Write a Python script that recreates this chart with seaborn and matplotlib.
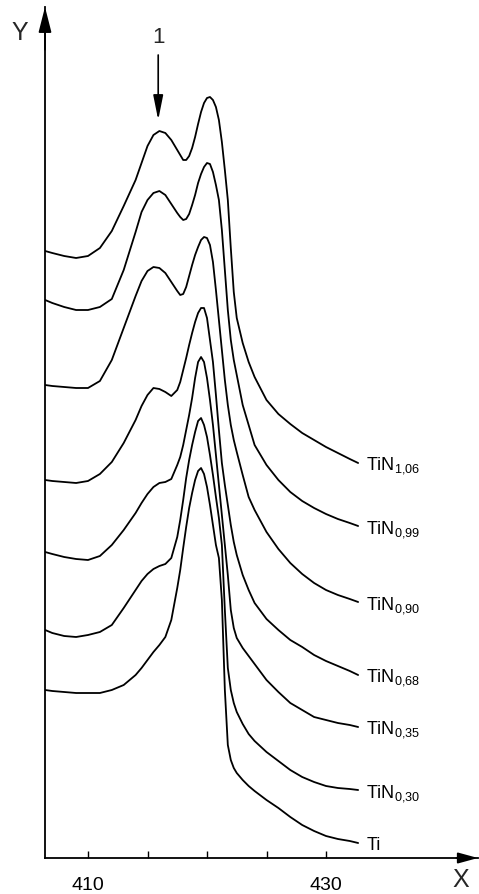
import matplotlib
matplotlib.use("Agg")
import matplotlib.pyplot as plt
import numpy as np
import pandas as pd
import seaborn as sns

# ---------------- data ----------------
x_nm = [406.4, 407, 408, 409, 410, 411, 412, 413, 414, 414.5, 415, 415.5, 416,
        416.5, 417, 417.5, 417.75, 418, 418.25, 418.5, 418.75, 419, 419.25,
        419.5, 419.75, 420, 420.25, 420.5, 420.75, 421, 421.25, 421.5, 421.75,
        422, 422.25, 422.5, 423, 423.5, 424, 425, 426, 427, 428, 429, 430,
        431, 432, 432.7]

y_TiN106 = [60.7, 60.5, 60.2, 60.0, 60.2, 61.0, 62.7, 65.2, 67.8, 69.5, 71.2, 72.3,
            72.7, 72.5, 71.8, 70.8, 70.3, 69.8, 69.8, 70.2, 71.0, 72.1, 73.4, 74.6,
            75.5, 76.0, 76.1, 75.8, 75.1, 73.8, 71.6, 68.8, 65.8, 61.0, 56.6, 54.0,
            51.5, 49.6, 48.1, 45.8, 44.4, 43.4, 42.5, 41.8, 41.1, 40.5, 39.9, 39.5]
y_TiN099 = [55.8, 55.5, 55.1, 54.8, 54.8, 55.1, 55.9, 58.8, 62.6, 64.6, 65.8, 66.5,
            66.7, 66.3, 65.4, 64.5, 64.1, 63.8, 63.9, 64.4, 65.3, 66.3, 67.5, 68.4,
            69.1, 69.5, 69.4, 68.6, 67.3, 65.8, 62.8, 58.8, 54.8, 51.8, 49.8, 48.3,
            45.3, 43.3, 41.3, 39.3, 37.8, 36.6, 35.7, 35.0, 34.4, 33.9, 33.5, 33.2]
y_TiN090 = [47.3, 47.2, 47.1, 47.0, 47.0, 47.7, 49.8, 53.0, 56.2, 57.7, 58.7, 59.1,
            59.0, 58.5, 57.6, 56.7, 56.3, 56.4, 57.1, 58.2, 59.3, 60.3, 61.1, 61.8,
            62.1, 62.0, 61.3, 59.6, 56.8, 53.8, 50.8, 47.8, 45.3, 43.3, 41.8, 40.6,
            38.3, 36.1, 34.8, 32.6, 30.9, 29.5, 28.4, 27.5, 26.8, 26.3, 25.9, 25.6]
y_TiN068 = [37.8, 37.7, 37.6, 37.5, 37.7, 38.4, 39.6, 41.5, 43.8, 45.2, 46.3, 47.0,
            46.9, 46.6, 46.2, 46.8, 47.6, 48.8, 50.0, 51.3, 52.5, 53.6, 54.5, 55.0,
            55.0, 54.0, 51.8, 49.6, 46.3, 42.8, 39.5, 37.3, 35.3, 33.3, 31.6, 30.3,
            28.3, 26.8, 25.5, 23.9, 22.8, 21.8, 21.1, 20.3, 19.7, 19.2, 18.7, 18.3]
y_TiN035 = [30.6, 30.4, 30.1, 29.9, 29.8, 30.2, 31.3, 32.8, 34.5, 35.5, 36.4, 37.1,
            37.5, 37.6, 37.9, 39.3, 40.1, 41.3, 42.8, 44.3, 46.0, 48.0, 49.6, 50.1,
            49.6, 48.0, 45.8, 43.3, 40.3, 37.3, 34.3, 31.3, 28.3, 24.8, 23.0, 22.0,
            21.0, 20.2, 19.4, 17.8, 16.6, 15.5, 14.8, 14.1, 13.8, 13.5, 13.3, 13.1]
y_TiN030 = [22.8, 22.5, 22.2, 22.1, 22.3, 22.6, 23.3, 25.0, 26.8, 27.7, 28.4, 28.9,
            29.2, 29.4, 30.0, 32.1, 33.8, 35.8, 38.0, 39.8, 41.3, 42.6, 43.7, 44.0,
            43.3, 42.1, 40.3, 38.3, 36.1, 34.0, 31.3, 24.8, 19.0, 16.8, 15.5, 14.6,
            13.4, 12.4, 11.7, 10.6, 9.7, 8.8, 8.1, 7.6, 7.2, 7.0, 6.9, 6.8]
y_Ti = [16.8, 16.7, 16.6, 16.5, 16.5, 16.5, 16.8, 17.3, 18.3, 19.0, 19.8, 20.6,
        21.3, 22.1, 23.8, 27.0, 28.8, 31.0, 33.1, 35.0, 36.5, 37.8, 38.7, 39.0,
        38.4, 37.1, 35.3, 33.3, 31.3, 30.0, 25.8, 16.8, 11.3, 9.8, 9.0, 8.5,
        7.8, 7.2, 6.7, 5.8, 5.0, 4.1, 3.3, 2.7, 2.2, 1.9, 1.7, 1.5]

samples = ["Ti", "TiN0,30", "TiN0,35", "TiN0,68", "TiN0,90", "TiN0,99", "TiN1,06"]
sample_labels = ["Ti", r"TiN$_{0{,}30}$", r"TiN$_{0{,}35}$", r"TiN$_{0{,}68}$",
                 r"TiN$_{0{,}90}$", r"TiN$_{0{,}99}$", r"TiN$_{1{,}06}$"]
series = [y_Ti, y_TiN030, y_TiN035, y_TiN068, y_TiN090, y_TiN099, y_TiN106]

x_ticks = [410, 415, 420, 425, 430]
x_tick_labels = ["410", "", "", "", "430"]
peak_mark_x = 415.9
peak_mark_label = "1"

# ---------------- build long table ----------------
df = pd.concat([pd.DataFrame({"x": x_nm, "y": ys, "sample": s})
                for s, ys in zip(samples, series)], ignore_index=True)

sns.set_style("white")
plt.rcParams["font.family"] = ["Liberation Sans", "DejaVu Sans"]
plt.rcParams["mathtext.default"] = "regular"

W, H = 479, 894
fig = plt.figure(figsize=(W / 100, H / 100), dpi=100)
ax_left, ax_bottom, ax_right, ax_top = 45, 858, 478, 7
ax = fig.add_axes([ax_left / W, (H - ax_bottom) / H,
                   (ax_right - ax_left) / W, (ax_bottom - ax_top) / H])

sns.lineplot(data=df, x="x", y="y", hue="sample", hue_order=samples,
             palette=["black"] * len(samples), estimator=None, sort=False,
             legend=False, linewidth=1.3, ax=ax)

px_per_unit = 11.9
x0 = 410 - (88 - ax_left) / px_per_unit
ax.set_xlim(x0, x0 + (ax_right - ax_left) / px_per_unit)
ax.set_ylim(0, (ax_bottom - ax_top) / 10)

for side in ["top", "right"]:
    ax.spines[side].set_visible(False)
for side in ["left", "bottom"]:
    ax.spines[side].set_color("black")
    ax.spines[side].set_linewidth(1.3)

ax.set_xticks(x_ticks)
ax.set_xticklabels(x_tick_labels)
ax.tick_params(axis="x", direction="in", length=5, width=1.0, pad=14,
               labelsize=14, colors="black", bottom=True)
ax.set_yticks([])
ax.set_xlabel("")
ax.set_ylabel("")

# axis arrow heads
ax.annotate("", xy=(0, 1), xytext=(0, 0.95), xycoords="axes fraction",
            arrowprops=dict(arrowstyle="-|>,head_length=1.1,head_width=0.28",
                            color="black", lw=1.3, shrinkA=0, shrinkB=0,
                            mutation_scale=14))
ax.annotate("", xy=(1, 0), xytext=(0.95, 0), xycoords="axes fraction",
            arrowprops=dict(arrowstyle="-|>,head_length=1.1,head_width=0.3",
                            color="black", lw=1.3, shrinkA=0, shrinkB=0,
                            mutation_scale=11))

fig.text(20 / W, 1 - 33 / H, "Y", fontsize=18, ha="center", va="center")
fig.text(461 / W, 1 - 880 / H, "X", fontsize=18, ha="center", va="center")

# curve labels at the right end of each curve
for lab, ys in zip(sample_labels, series):
    ax.text(x_nm[-1] + 0.7, ys[-1] - 0.7, lab, fontsize=13, ha="left",
            va="baseline", color="black")

# peak marker "1" with arrow
ax.annotate("", xy=(peak_mark_x, 73.8), xytext=(peak_mark_x, 80.3),
            arrowprops=dict(arrowstyle="-|>,head_length=0.75,head_width=0.15",
                            color="black", lw=1.2, shrinkA=0, shrinkB=0,
                            mutation_scale=20))
ax.text(peak_mark_x, 81.5, peak_mark_label, fontsize=16, ha="center",
        va="baseline")

fig.savefig("out.png", dpi=100)
